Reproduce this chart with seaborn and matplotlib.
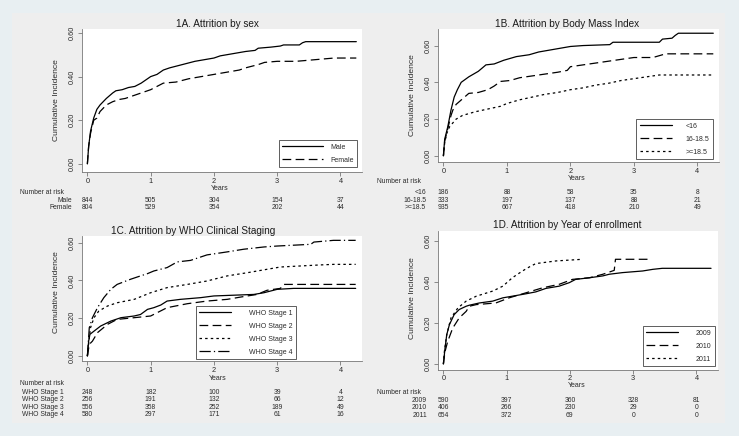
import matplotlib.pyplot as plt
import matplotlib.transforms as mtransforms
from matplotlib.patches import Rectangle
import pandas as pd
import seaborn as sns

# ---- data (cumulative incidence curves) ----
# 1A: sex
male_t = [0, 0.02, 0.05, 0.1, 0.15, 0.2, 0.3, 0.4, 0.45, 0.55, 0.65, 0.75, 0.85, 0.95, 1.0, 1.1, 1.2, 1.3,
          1.5, 1.7, 1.9, 2.0, 2.1, 2.3, 2.5, 2.65, 2.7, 2.9, 3.05, 3.1, 3.35, 3.4, 3.45, 4.25]
male_ci = [0, 0.08, 0.15, 0.21, 0.25, 0.27, 0.30, 0.325, 0.335, 0.34, 0.35, 0.355, 0.37, 0.39, 0.40, 0.41, 0.43, 0.44,
           0.455, 0.47, 0.48, 0.485, 0.495, 0.505, 0.515, 0.52, 0.53, 0.535, 0.54, 0.545, 0.545, 0.555, 0.56, 0.56]
female_t = [0, 0.02, 0.05, 0.1, 0.15, 0.2, 0.3, 0.4, 0.5, 0.6, 0.8, 1.0, 1.1, 1.2, 1.4, 1.6, 1.8, 2.0, 2.2,
            2.4, 2.5, 2.7, 2.8, 3.0, 3.3, 3.5, 3.7, 3.9, 4.25]
female_ci = [0, 0.08, 0.14, 0.20, 0.21, 0.24, 0.27, 0.285, 0.295, 0.30, 0.32, 0.34, 0.355, 0.37, 0.375, 0.39, 0.40,
             0.41, 0.42, 0.43, 0.44, 0.455, 0.465, 0.47, 0.47, 0.475, 0.48, 0.485, 0.485]
sex_labels = ["Male", "Female"]
sex_risk = [[844, 505, 304, 154, 37], [804, 529, 354, 202, 44]]

# 1B: body mass index
bmi1_t = [0, 0.02, 0.07, 0.12, 0.17, 0.22, 0.28, 0.4, 0.55, 0.67, 0.8, 0.95, 1.15, 1.35, 1.5, 1.75, 2.0, 2.2,
          2.62, 2.67, 3.4, 3.45, 3.6, 3.65, 3.7, 4.25]
bmi1_ci = [0, 0.09, 0.16, 0.25, 0.32, 0.36, 0.40, 0.43, 0.46, 0.495, 0.50, 0.52, 0.54, 0.55, 0.565, 0.58, 0.595,
           0.60, 0.605, 0.618, 0.618, 0.635, 0.64, 0.655, 0.667, 0.667]
bmi2_t = [0, 0.02, 0.07, 0.12, 0.15, 0.2, 0.3, 0.4, 0.55, 0.7, 0.8, 0.9, 1.05, 1.2, 1.4, 1.6, 1.8, 1.95, 2.0,
          2.2, 2.5, 2.8, 3.0, 3.3, 3.4, 3.5, 4.25]
bmi2_ci = [0, 0.08, 0.15, 0.22, 0.25, 0.28, 0.31, 0.34, 0.345, 0.36, 0.38, 0.405, 0.41, 0.425, 0.435, 0.445,
           0.455, 0.465, 0.485, 0.495, 0.51, 0.525, 0.535, 0.535, 0.545, 0.555, 0.555]
bmi3_t = [0, 0.02, 0.05, 0.1, 0.2, 0.3, 0.5, 0.7, 0.9, 1.0, 1.2, 1.4, 1.6, 1.8, 2.0, 2.2, 2.4, 2.6, 2.8, 3.0,
          3.2, 3.4, 4.25]
bmi3_ci = [0, 0.07, 0.12, 0.16, 0.20, 0.22, 0.24, 0.255, 0.27, 0.285, 0.305, 0.32, 0.335, 0.345, 0.36, 0.37,
           0.385, 0.395, 0.41, 0.42, 0.43, 0.44, 0.44]
bmi_labels = ["<16", "16-18.5", ">=18.5"]
bmi_risk = [[186, 88, 58, 35, 8], [333, 197, 137, 88, 21], [935, 667, 418, 210, 49]]

# 1C: WHO clinical staging
who1_t = [0, 0.02, 0.04, 0.105, 0.21, 0.37, 0.53, 0.74, 0.84, 0.95, 1.05, 1.16, 1.26, 1.47, 1.79, 2.0, 2.63,
          2.79, 3.0, 3.26, 4.24]
who1_ci = [0, 0.079, 0.115, 0.132, 0.159, 0.185, 0.203, 0.212, 0.22, 0.247, 0.256, 0.27, 0.291, 0.30, 0.309,
           0.318, 0.326, 0.335, 0.353, 0.358, 0.358]
who2_t = [0, 0.03, 0.08, 0.16, 0.32, 0.47, 0.74, 1.0, 1.1, 1.26, 1.58, 1.89, 2.21, 2.42, 2.68, 2.84, 3.05,
          3.1, 4.24]
who2_ci = [0, 0.062, 0.079, 0.124, 0.168, 0.194, 0.203, 0.212, 0.229, 0.256, 0.277, 0.291, 0.30, 0.312, 0.326,
           0.348, 0.358, 0.379, 0.379]
who3_t = [0, 0.03, 0.05, 0.105, 0.18, 0.32, 0.47, 0.74, 1.0, 1.26, 1.58, 1.89, 2.21, 2.53, 2.84, 3.05, 3.68,
          3.89, 4.24]
who3_ci = [0, 0.097, 0.15, 0.203, 0.238, 0.265, 0.282, 0.30, 0.335, 0.362, 0.379, 0.397, 0.424, 0.441, 0.459,
           0.471, 0.482, 0.485, 0.485]
who4_t = [0, 0.03, 0.08, 0.16, 0.26, 0.37, 0.47, 0.68, 0.84, 0.95, 1.05, 1.26, 1.42, 1.63, 1.89, 2.21, 2.47,
          2.79, 3.0, 3.53, 3.58, 3.89, 4.24]
who4_ci = [0, 0.15, 0.203, 0.256, 0.309, 0.353, 0.379, 0.406, 0.424, 0.436, 0.45, 0.468, 0.498, 0.506, 0.535,
           0.551, 0.565, 0.577, 0.582, 0.591, 0.603, 0.612, 0.612]
who_labels = ["WHO Stage 1", "WHO Stage 2", "WHO Stage 3", "WHO Stage 4"]
who_risk = [[248, 182, 100, 39, 4], [256, 191, 132, 66, 12], [556, 358, 252, 189, 49], [580, 297, 171, 61, 16]]

# 1D: year of enrollment
y2009_t = [0, 0.026, 0.053, 0.095, 0.17, 0.25, 0.36, 0.41, 0.57, 0.78, 0.94, 1.09, 1.31, 1.46, 1.62, 1.83,
           1.99, 2.09, 2.31, 2.52, 2.62, 2.83, 3.15, 3.31, 3.46, 4.23]
y2009_ci = [0, 0.077, 0.143, 0.192, 0.241, 0.266, 0.282, 0.287, 0.298, 0.307, 0.323, 0.331, 0.343, 0.352, 0.369,
            0.38, 0.397, 0.413, 0.421, 0.43, 0.438, 0.446, 0.454, 0.462, 0.467, 0.467]
y2010_t = [0, 0.026, 0.068, 0.147, 0.25, 0.36, 0.41, 0.52, 0.83, 1.04, 1.31, 1.57, 1.83, 2.04, 2.31, 2.52, 2.7,
           2.72, 3.25]
y2010_ci = [0, 0.061, 0.11, 0.175, 0.225, 0.257, 0.282, 0.29, 0.298, 0.323, 0.348, 0.372, 0.389, 0.413, 0.421,
            0.438, 0.457, 0.511, 0.511]
y2011_t = [0, 0.016, 0.053, 0.12, 0.23, 0.36, 0.52, 0.78, 0.94, 1.09, 1.25, 1.36, 1.46, 1.78, 1.99, 2.2]
y2011_ci = [0, 0.061, 0.143, 0.225, 0.274, 0.307, 0.331, 0.356, 0.38, 0.421, 0.454, 0.474, 0.49, 0.503, 0.507,
            0.511]
year_labels = ["2009", "2010", "2011"]
year_risk = [[590, 397, 360, 328, 81], [406, 266, 230, 29, 0], [654, 372, 69, 0, 0]]

x_ticks = [0, 1, 2, 3, 4]
y_ticks = [0, 0.2, 0.4, 0.6]
y_ticklabels = ["0.00", "0.20", "0.40", "0.60"]

W, H = 739, 436
TXT = "#2b2b2b"

sns.set_theme(style="white")
plt.rcParams["font.family"] = ["Liberation Sans", "DejaVu Sans"]

fig = plt.figure(figsize=(W / 100, H / 100), dpi=100)
fig.patch.set_facecolor("#e8eff2")
fig.patches.append(Rectangle((12 / W, 1 - 423 / H), 713 / W, 410 / H, transform=fig.transFigure,
                             facecolor="#eeeeee", edgecolor="none", zorder=-5))


def fx(x):
    return x / W


def fy(y):
    return 1 - y / H


def panel(box, curves, labels, dashes, ylim, title, title_xy, ylab_xy, years_xy,
          risk, head_xy, label_right, rows_y, leg, xpad=1.5):
    l, t, r, b = box
    ax = fig.add_axes([fx(l), fy(b), (r - l) / W, (b - t) / H])
    ax.set_facecolor("white")
    df = pd.concat([pd.DataFrame({"t": tt, "ci": cc, "grp": lab}) for (tt, cc), lab in zip(curves, labels)])
    sns.lineplot(data=df, x="t", y="ci", hue="grp", style="grp", hue_order=labels, style_order=labels,
                 palette=["black"] * len(labels), dashes=dashes,
                 estimator=None, sort=False, lw=0.9, legend=False, ax=ax)
    ax.set_xlim(-0.085, 4.34)
    ax.set_ylim(*ylim)
    ax.set_xticks(x_ticks)
    ax.set_xticklabels([str(v) for v in x_ticks])
    ax.set_yticks(y_ticks)
    ax.set_yticklabels(y_ticklabels, rotation=90, va="center")
    ax.set_xlabel("")
    ax.set_ylabel("")
    for s in ["top", "right"]:
        ax.spines[s].set_visible(False)
    for s in ["left", "bottom"]:
        ax.spines[s].set_color("#777777")
        ax.spines[s].set_linewidth(0.6)
    ax.tick_params(axis="both", length=3, width=0.6, color="#777777", labelsize=5.3,
                   labelcolor=TXT, pad=1.5, left=True, bottom=True)
    ax.tick_params(axis="x", pad=xpad)

    fig.text(fx(title_xy[0]), fy(title_xy[1]), title, ha="center", va="center", fontsize=7.2, color="#1a1a1a")
    fig.text(fx(ylab_xy[0]), fy(ylab_xy[1]), "Cumulative Incidence", rotation=90, ha="center", va="center",
             fontsize=6.1, color=TXT)
    fig.text(fx(years_xy[0]), fy(years_xy[1]), "Years", ha="center", va="center", fontsize=5, color=TXT)

    # number at risk table
    tr = mtransforms.blended_transform_factory(ax.transData, fig.transFigure)
    fig.text(fx(head_xy[0]), fy(head_xy[1]), "Number at risk", ha="left", va="center", fontsize=4.9, color=TXT)
    for lab, vals, yy in zip(labels, risk, rows_y):
        fig.text(fx(label_right), fy(yy), lab, ha="right", va="center", fontsize=4.9, color=TXT)
        for xv, n in zip(x_ticks, vals):
            ax.text(xv, fy(yy), str(n), transform=tr, ha="center", va="center", fontsize=4.9, color=TXT)

    lg = ax.legend(handles=ax.get_lines(), labels=labels, loc=leg["loc"],
                   bbox_to_anchor=(fx(leg["xy"][0]), fy(leg["xy"][1])), bbox_transform=fig.transFigure,
                   fontsize=5, frameon=True, fancybox=False, framealpha=1, edgecolor="#444444",
                   facecolor="white", handlelength=leg["hl"], handletextpad=leg["tp"],
                   labelspacing=0.85, borderpad=0.5, borderaxespad=0)
    lg.get_frame().set_linewidth(0.6)
    for txt in lg.get_texts():
        txt.set_color(TXT)
    return ax


solid = ""
dash = (7, 3.5)
dot = (2, 2.5)
dashdot = (9, 2.5, 1, 2.5)

panel((82, 29, 362, 172), [(male_t, male_ci), (female_t, female_ci)], sex_labels, [solid, dash],
      (-0.037, 0.618), "1A. Attrition by sex", (217, 24), (57, 100), (220, 188),
      sex_risk, (20, 192.7), 72, [200, 207.3],
      {"loc": "lower right", "xy": (357, 167), "hl": 5.9, "tp": 1.0})

panel((438, 29, 719, 162), [(bmi1_t, bmi1_ci), (bmi2_t, bmi2_ci), (bmi3_t, bmi3_ci)], bmi_labels,
      [solid, dash, dot], (-0.033, 0.69), "1B. Attrition by Body Mass Index", (567, 24), (412, 95),
      (577, 178), bmi_risk, (377, 181.7), 426, [193, 200, 207.3],
      {"loc": "lower right", "xy": (713, 159), "hl": 4.6, "tp": 2.0})

panel((82, 236, 362, 361), [(who1_t, who1_ci), (who2_t, who2_ci), (who3_t, who3_ci), (who4_t, who4_ci)],
      who_labels, [solid, dash, dot, dashdot], (-0.026, 0.635), "1C. Attrition by WHO Clinical Staging",
      (193, 231), (57, 292), (218, 378), who_risk, (20, 383), 64, [392, 399.7, 407.3, 414.7],
      {"loc": "lower left", "xy": (196, 359), "hl": 4.6, "tp": 2.5})

panel((438, 231, 718, 370), [(y2009_t, y2009_ci), (y2010_t, y2010_ci), (y2011_t, y2011_ci)], year_labels,
      [solid, dash, dot], (-0.029, 0.649), "1D. Attrition by Year of enrollment", (567, 225), (412, 298),
      (577, 385.5), year_risk, (377, 392.5), 427, [400, 407.5, 415],
      {"loc": "lower right", "xy": (715, 366), "hl": 4.5, "tp": 2.6}, xpad=0.3)

fig.savefig("out.png", dpi=100, facecolor=fig.get_facecolor())
